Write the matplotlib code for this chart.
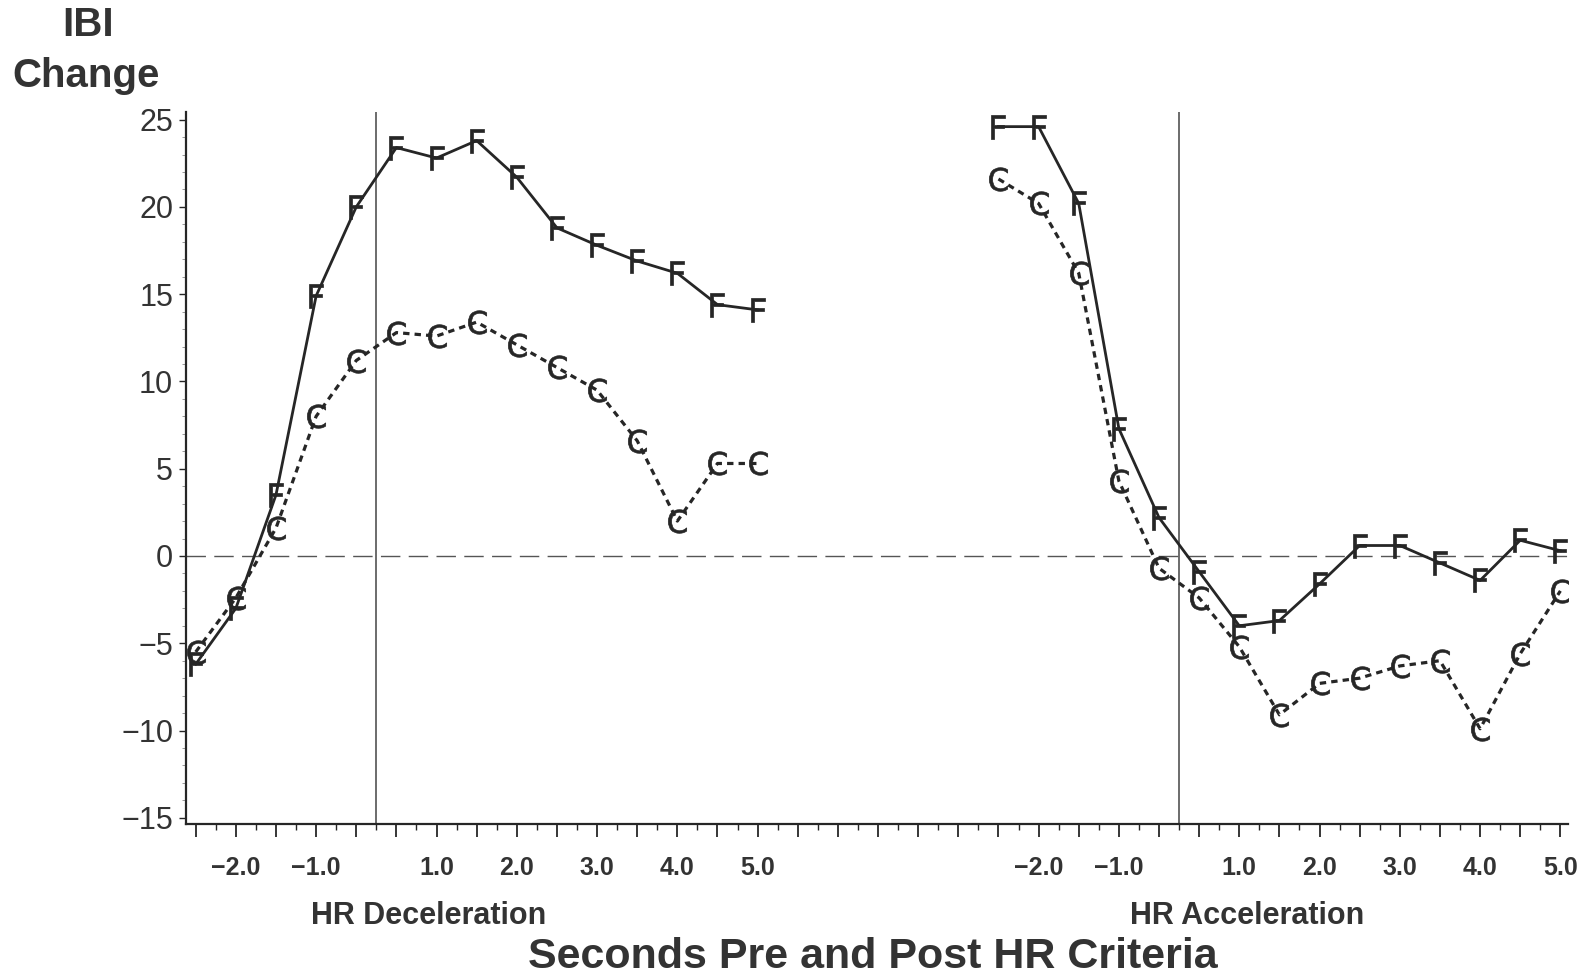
import matplotlib.pyplot as plt
from matplotlib.ticker import MultipleLocator, FixedLocator

plt.rcParams['font.family'] = ['Liberation Sans', 'DejaVu Sans']

# sample times (seconds), 0 is skipped
secs = [-2.5, -2.0, -1.5, -1.0, -0.5, 0.5, 1.0, 1.5, 2.0, 2.5, 3.0, 3.5, 4.0, 4.5, 5.0]
tick_text = ['\u22122.0', '\u22121.0', '1.0', '2.0', '3.0', '4.0', '5.0']
tick_secs = [-2.0, -1.0, 1.0, 2.0, 3.0, 4.0, 5.0]

decel_F = [-6.2, -3.0, 3.5, 14.9, 20.0, 23.4, 22.8, 23.8, 21.7, 18.8, 17.8, 16.9, 16.2, 14.4, 14.1]
decel_C = [-5.5, -2.4, 1.6, 8.0, 11.2, 12.8, 12.6, 13.4, 12.1, 10.8, 9.5, 6.6, 2.0, 5.3, 5.3]
accel_F = [24.6, 24.6, 20.2, 7.3, 2.2, -0.9, -4.0, -3.7, -1.6, 0.6, 0.6, -0.4, -1.4, 0.9, 0.3]
accel_C = [21.6, 20.2, 16.2, 4.3, -0.7, -2.4, -5.2, -9.1, -7.3, -7.0, -6.3, -6.0, -9.9, -5.6, -2.0]

panels = ['HR Deceleration', 'HR Acceleration']
panel_offset = [0, 20]
label_shift = [5.8, 6.2]

ink = '#262626'
txt = '#333333'

fig = plt.figure(figsize=(15.91, 9.8), dpi=100)
ax = fig.add_axes([0.1167, 0.1593, 0.8686, 0.7268])

idx = list(range(len(secs)))
xl = [i + panel_offset[0] for i in idx]
xr = [i + panel_offset[1] for i in idx]

mF = r'$\mathsf{F}$'
mC = r'$\mathsf{C}$'
for xs, f, c in [(xl, decel_F, decel_C), (xr, accel_F, accel_C)]:
    ax.plot(xs, f, color=ink, lw=2.0, marker=mF, markersize=17, mew=0.5, zorder=3)
    ax.plot(xs, c, color=ink, lw=2.3, ls=(0, (2, 1.6)), marker=mC, markersize=17,
            mew=0.5, zorder=3)

ax.axhline(0, color='#555555', lw=1.0, ls=(0, (14, 6)), zorder=1)
for off in panel_offset:
    ax.axvline(off + 4.5, color='#444444', lw=1.1, zorder=1)

ax.set_xlim(-0.25, 34.18)
ax.set_ylim(-15.35, 25.46)

for s in ['top', 'right']:
    ax.spines[s].set_visible(False)
for s in ['left', 'bottom']:
    ax.spines[s].set_color(ink)
    ax.spines[s].set_linewidth(1.6)

# x ticks: one per sample position, minor ticks between
ax.xaxis.set_major_locator(MultipleLocator(1))
ax.xaxis.set_minor_locator(MultipleLocator(0.5))
ax.set_xticklabels([])
lab_pos = []
lab_txt = []
for off in panel_offset:
    for s, t in zip(tick_secs, tick_text):
        lab_pos.append(off + secs.index(s))
        lab_txt.append(t)
sec = ax.secondary_xaxis('bottom')
sec.xaxis.set_major_locator(FixedLocator(lab_pos))
sec.set_xticklabels(lab_txt, fontsize=18, fontweight='bold', color=txt)
sec.tick_params(length=0, pad=23)
sec.spines['bottom'].set_visible(False)

ax.tick_params(axis='x', which='major', length=9, width=1.3, color=ink, direction='out')
ax.tick_params(axis='x', which='minor', length=4, width=1.0, color=ink, direction='out')

ax.yaxis.set_minor_locator(MultipleLocator(1))
ax.set_yticks([-15, -10, -5, 0, 5, 10, 15, 20, 25])
ax.set_yticklabels(['\u221215', '\u221210', '\u22125', '0', '5', '10', '15', '20', '25'],
                   fontsize=22, color=txt)
ax.tick_params(axis='y', which='major', length=5, width=1.0, color=ink, pad=4)
ax.tick_params(axis='y', which='minor', length=3, width=0.6, color='#888888')

for name, off, sh in zip(panels, panel_offset, label_shift):
    ax.text(off + sh, -20.6, name, ha='center', va='center', fontsize=22,
            fontweight='bold', color=txt)

fig.text(0.5485, 0.0237, 'Seconds Pre and Post HR Criteria', ha='center', va='center',
         fontsize=31, fontweight='bold', color=txt)
fig.text(0.0555, 0.974, 'IBI', ha='center', va='center', fontsize=29,
         fontweight='bold', color=txt)
fig.text(0.0542, 0.922, 'Change', ha='center', va='center', fontsize=29,
         fontweight='bold', color=txt)

fig.savefig('out.png', dpi=100)
